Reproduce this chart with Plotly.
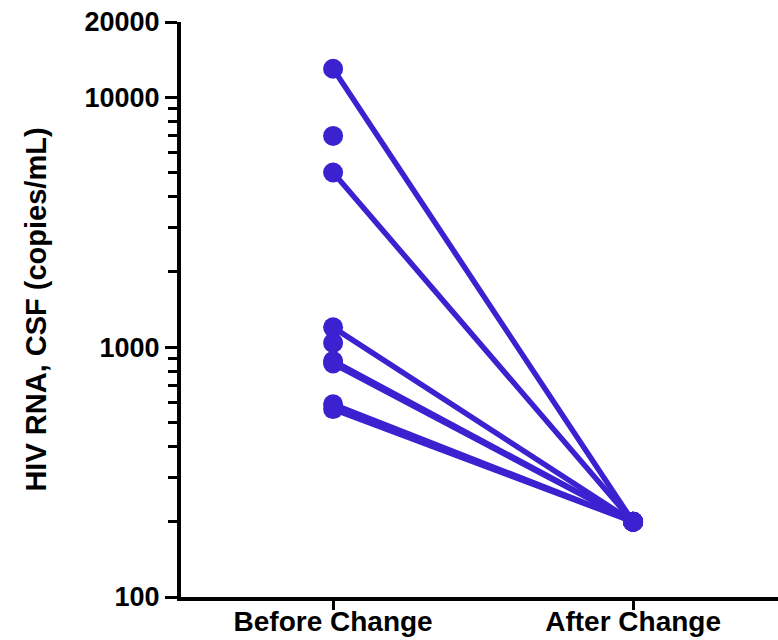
import plotly.graph_objects as go

# Paired CSF HIV RNA measurements (copies/mL); None = no follow-up value
before = [13000, 7000, 5000, 1200, 1040, 880, 860, 590, 565]
after = [200, None, 200, 200, None, 200, 200, 200, 200]

groups = ["Before Change", "After Change"]
group_pos = [0, 1]

major_ticks = [100, 1000, 10000, 20000]
minor_ticks = [200, 300, 400, 500, 600, 700, 800, 900,
               2000, 3000, 4000, 5000, 6000, 7000, 8000, 9000]

color = "rgb(58, 34, 208)"

fig = go.Figure()
for b, a in zip(before, after):
    xs = [group_pos[0]] if a is None else group_pos
    ys = [b] if a is None else [b, a]
    fig.add_trace(go.Scatter(
        x=xs, y=ys, mode="lines+markers",
        line=dict(color=color, width=5.5),
        marker=dict(color=color, size=20),
        showlegend=False, hoverinfo="skip",
    ))

font_family = "Liberation Sans, Arial, sans-serif"

fig.update_layout(
    width=778, height=640,
    margin=dict(l=181, r=0, t=22, b=43),
    paper_bgcolor="white", plot_bgcolor="white",
    xaxis=dict(
        automargin=False,
        range=[-0.507, 1.483],
        tickmode="array", tickvals=group_pos, ticktext=groups,
        showgrid=False, zeroline=False,
        showline=True, linecolor="black", linewidth=4,
        ticks="outside", ticklen=9, tickwidth=3, tickcolor="black",
        ticklabelstandoff=-13,
        tickfont=dict(family=font_family, size=28, color="black", weight="bold"),
    ),
    yaxis=dict(
        automargin=False,
        type="log",
        range=[2, 4.30103],
        tickmode="array", tickvals=major_ticks,
        ticktext=[str(v) for v in major_ticks],
        showgrid=False, zeroline=False,
        showline=True, linecolor="black", linewidth=4,
        ticks="outside", ticklen=12, tickwidth=3, tickcolor="black",
        tickfont=dict(family=font_family, size=27, color="black", weight="bold"),
        minor=dict(tickmode="array", tickvals=minor_ticks, ticks="outside",
                   ticklen=9, tickwidth=3, tickcolor="black", showgrid=False),
        title=dict(text="HIV RNA, CSF (copies/mL)", standoff=30,
                   font=dict(family=font_family, size=29, color="black", weight="bold")),
    ),
)

fig.write_html("out.html")
